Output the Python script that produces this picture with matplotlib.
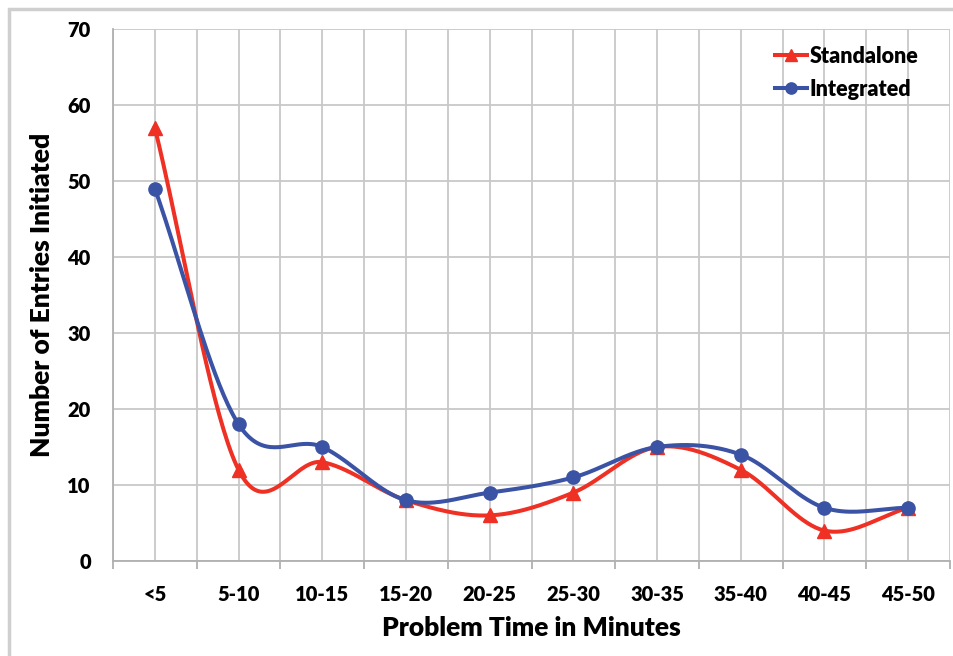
import numpy as np
import matplotlib
matplotlib.use('Agg')
from matplotlib import pyplot as plt
from matplotlib.patches import Rectangle

categories = ['<5', '5-10', '10-15', '15-20', '20-25', '25-30',
              '30-35', '35-40', '40-45', '45-50']
standalone = [57, 12, 13, 8, 6, 9, 15, 12, 4, 7]
integrated = [49, 18, 15, 8, 9, 11, 15, 14, 7, 7]

RED = '#ee3124'
BLUE = '#3a53a4'
GRID = '#c8c8c8'

plt.rcParams['font.family'] = ['Lato', 'DejaVu Sans']
plt.rcParams['font.weight'] = 'heavy'


def smooth(y, n=40):
    # excel-like smoothed line (catmull-rom through the points)
    y = np.asarray(y, dtype=float)
    x = np.arange(len(y), dtype=float)
    xs, ys = [], []
    for i in range(len(y) - 1):
        p0 = y[i - 1] if i > 0 else y[i]
        p3 = y[i + 2] if i + 2 < len(y) else y[i + 1]
        p1, p2 = y[i], y[i + 1]
        m1 = (p2 - p0) / (2 if i > 0 else 1)
        m2 = (p3 - p1) / (2 if i + 2 < len(y) else 1)
        t = np.linspace(0, 1, n)
        h00 = 2 * t**3 - 3 * t**2 + 1
        h10 = t**3 - 2 * t**2 + t
        h01 = -2 * t**3 + 3 * t**2
        h11 = t**3 - t**2
        xs.append(x[i] + t)
        ys.append(h00 * p1 + h10 * m1 + h01 * p2 + h11 * m2)
    return np.concatenate(xs), np.concatenate(ys)


fig = plt.figure(figsize=(9.54, 6.56), dpi=100)
ax = fig.add_axes([113 / 954, 1 - 561 / 656, (950 - 113) / 954, (561 - 29) / 656])

fig.patches.append(Rectangle((9 / 954, -0.1), 1.2, (656 - 9) / 656 + 0.1,
                             transform=fig.transFigure, fill=False,
                             edgecolor='#cfcfcf', linewidth=2.5))

xs, ys = smooth(standalone)
ax.plot(xs, ys, color=RED, lw=2.9, zorder=3)
ax.plot(range(len(categories)), standalone, ls='none', marker='^', ms=9.5,
        color=RED, zorder=4)
xs, ys = smooth(integrated)
ax.plot(xs, ys, color=BLUE, lw=2.9, zorder=5)
ax.plot(range(len(categories)), integrated, ls='none', marker='o', ms=9.5,
        color=BLUE, zorder=6)

ax.plot([], [], color=RED, lw=2.9, marker='^', ms=9, label='Standalone')
ax.plot([], [], color=BLUE, lw=2.9, marker='o', ms=9, label='Integrated')

ax.set_xlim(-0.5, len(categories) - 0.5)
ax.set_ylim(0, 70)
ax.set_yticks(range(0, 71, 10))
ax.set_xticks(range(len(categories)))
ax.set_xticklabels(categories)
ax.set_xticks(np.arange(-0.5, len(categories), 1), minor=True)

ax.grid(True, which='both', axis='x', color=GRID, lw=1.3)
ax.grid(True, which='major', axis='y', color=GRID, lw=1.3)
ax.set_axisbelow(True)

for s in ['top', 'right']:
    ax.spines[s].set_visible(False)
for s in ['left', 'bottom']:
    ax.spines[s].set_color('#b0b0b0')
    ax.spines[s].set_linewidth(1.3)

ax.tick_params(axis='x', which='major', length=0, pad=17, labelsize=14.5)
ax.tick_params(axis='x', which='minor', length=6, color='#b0b0b0', width=1.3)
ax.tick_params(axis='y', length=0, pad=16, labelsize=14.5)

ax.set_xlabel('Problem Time in Minutes', fontsize=19, fontweight='heavy',
              labelpad=9)
ax.set_ylabel('Number of Entries Initiated', fontsize=19, fontweight='heavy',
              labelpad=10)

leg = ax.legend(loc='upper right', bbox_to_anchor=(0.985, 1.005), frameon=False,
                fontsize=15.5, handlelength=1.5, handletextpad=0.1,
                labelspacing=0.55, markerscale=0.9)

fig.savefig('out.png', dpi=100)
